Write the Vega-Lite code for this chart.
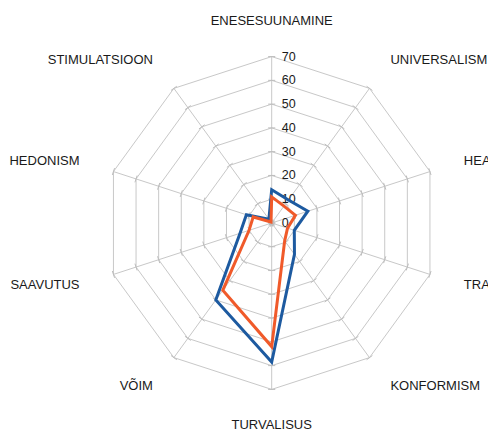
{
  "$schema": "https://vega.github.io/schema/vega-lite/v6.json",
  "width": 488,
  "height": 431,
  "autosize": "none",
  "padding": 0,
  "background": "white",
  "config": {"view": {"stroke": null}, "font": "Liberation Sans"},
  "datasets": {
    "cats": [
      {"cat": "ENESESUUNAMINE", "lv": [0, 10, 20, 30, 40, 50, 60, 70]},
      {"cat": "UNIVERSALISM", "lv": [0, 10, 20, 30, 40, 50, 60, 70]},
      {"cat": "HEATAHTLIKKUS", "lv": [0, 10, 20, 30, 40, 50, 60, 70]},
      {"cat": "TRADITSIOON", "lv": [0, 10, 20, 30, 40, 50, 60, 70]},
      {"cat": "KONFORMISM", "lv": [0, 10, 20, 30, 40, 50, 60, 70]},
      {"cat": "TURVALISUS", "lv": [0, 10, 20, 30, 40, 50, 60, 70]},
      {"cat": "VÕIM", "lv": [0, 10, 20, 30, 40, 50, 60, 70]},
      {"cat": "SAAVUTUS", "lv": [0, 10, 20, 30, 40, 50, 60, 70]},
      {"cat": "HEDONISM", "lv": [0, 10, 20, 30, 40, 50, 60, 70]},
      {"cat": "STIMULATSIOON", "lv": [0, 10, 20, 30, 40, 50, 60, 70]}
    ],
    "vals": [
      {"series": "Series 1", "cat": "ENESESUUNAMINE", "value": 14},
      {"series": "Series 1", "cat": "UNIVERSALISM", "value": 12},
      {"series": "Series 1", "cat": "HEATAHTLIKKUS", "value": 16},
      {"series": "Series 1", "cat": "TRADITSIOON", "value": 10},
      {"series": "Series 1", "cat": "KONFORMISM", "value": 16.3},
      {"series": "Series 1", "cat": "TURVALISUS", "value": 58.5},
      {"series": "Series 1", "cat": "VÕIM", "value": 40},
      {"series": "Series 1", "cat": "SAAVUTUS", "value": 14},
      {"series": "Series 1", "cat": "HEDONISM", "value": 11.2},
      {"series": "Series 1", "cat": "STIMULATSIOON", "value": 2},
      {"series": "Series 2", "cat": "ENESESUUNAMINE", "value": 11},
      {"series": "Series 2", "cat": "UNIVERSALISM", "value": 8.8},
      {"series": "Series 2", "cat": "HEATAHTLIKKUS", "value": 10.5},
      {"series": "Series 2", "cat": "TRADITSIOON", "value": 7},
      {"series": "Series 2", "cat": "KONFORMISM", "value": 9.3},
      {"series": "Series 2", "cat": "TURVALISUS", "value": 52},
      {"series": "Series 2", "cat": "VÕIM", "value": 35},
      {"series": "Series 2", "cat": "SAAVUTUS", "value": 10},
      {"series": "Series 2", "cat": "HEDONISM", "value": 8.2},
      {"series": "Series 2", "cat": "STIMULATSIOON", "value": 0.5}
    ]
  },
  "layer": [
    {
      "data": {"name": "cats"},
      "transform": [
        {"window": [{"op": "row_number", "as": "i"}]},
        {"calculate": "(datum.i - 1) * PI / 5", "as": "a"},
        {"calculate": "70 * sin(datum.a)", "as": "sx"},
        {"calculate": "70 * cos(datum.a)", "as": "sy"},
        {"calculate": "0", "as": "z"}
      ],
      "mark": {"type": "rule", "color": "#c8c8c8", "strokeWidth": 1},
      "encoding": {
        "x": {"field": "z", "type": "quantitative", "scale": {"domain": [-114.3, 91.0], "nice": false, "zero": false}, "axis": null},
        "y": {"field": "z", "type": "quantitative", "scale": {"domain": [-87.5, 93.8], "nice": false, "zero": false}, "axis": null},
        "x2": {"field": "sx"},
        "y2": {"field": "sy"}
      }
    },
    {
      "data": {"name": "cats"},
      "transform": [
        {"window": [{"op": "row_number", "as": "i"}]},
        {"calculate": "(datum.i - 1) * PI / 5", "as": "a"},
        {"flatten": ["lv"]},
        {"filter": "datum.lv > 0"},
        {"calculate": "datum.lv * sin(datum.a)", "as": "gx"},
        {"calculate": "datum.lv * cos(datum.a)", "as": "gy"}
      ],
      "mark": {"type": "line", "interpolate": "linear-closed", "color": "#c8c8c8", "strokeWidth": 1},
      "encoding": {
        "x": {"field": "gx", "type": "quantitative"},
        "y": {"field": "gy", "type": "quantitative"},
        "detail": {"field": "lv", "type": "nominal"},
        "order": {"field": "i", "type": "quantitative"}
      }
    },
    {
      "data": {"name": "cats"},
      "transform": [
        {"window": [{"op": "row_number", "as": "i"}]},
        {"calculate": "(datum.i - 1) * PI / 5", "as": "a"},
        {"flatten": ["lv"]},
        {"calculate": "datum.lv * sin(datum.a) - 1.5 * cos(datum.a)", "as": "tx"},
        {"calculate": "datum.lv * cos(datum.a) + 1.5 * sin(datum.a)", "as": "ty"},
        {"calculate": "datum.lv * sin(datum.a) + 1.5 * cos(datum.a)", "as": "tx2"},
        {"calculate": "datum.lv * cos(datum.a) - 1.5 * sin(datum.a)", "as": "ty2"}
      ],
      "mark": {"type": "rule", "color": "#bdbdbd", "strokeWidth": 1},
      "encoding": {
        "x": {"field": "tx", "type": "quantitative"},
        "y": {"field": "ty", "type": "quantitative"},
        "x2": {"field": "tx2"},
        "y2": {"field": "ty2"}
      }
    },
    {
      "data": {"name": "cats"},
      "transform": [
        {"window": [{"op": "row_number", "as": "i"}]},
        {"filter": "datum.i == 1"},
        {"flatten": ["lv"]},
        {"calculate": "0", "as": "z"}
      ],
      "mark": {"type": "text", "align": "left", "baseline": "middle", "dx": 10, "fontSize": 12.5, "color": "#1a1a1a"},
      "encoding": {
        "x": {"field": "z", "type": "quantitative"},
        "y": {"field": "lv", "type": "quantitative"},
        "text": {"field": "lv", "type": "quantitative"}
      }
    },
    {
      "data": {"name": "vals"},
      "transform": [
        {"filter": "datum.series == 'Series 1'"},
        {"window": [{"op": "row_number", "as": "i"}]},
        {"calculate": "(datum.i - 1) * PI / 5", "as": "a"},
        {"calculate": "datum.value * sin(datum.a)", "as": "px"},
        {"calculate": "datum.value * cos(datum.a)", "as": "py"}
      ],
      "mark": {"type": "line", "interpolate": "linear-closed", "color": "#1d5aa0", "strokeWidth": 3, "strokeJoin": "miter"},
      "encoding": {
        "x": {"field": "px", "type": "quantitative"},
        "y": {"field": "py", "type": "quantitative"},
        "order": {"field": "i", "type": "quantitative"}
      }
    },
    {
      "data": {"name": "vals"},
      "transform": [
        {"filter": "datum.series == 'Series 2'"},
        {"window": [{"op": "row_number", "as": "i"}]},
        {"calculate": "(datum.i - 1) * PI / 5", "as": "a"},
        {"calculate": "datum.value * sin(datum.a)", "as": "px"},
        {"calculate": "datum.value * cos(datum.a)", "as": "py"}
      ],
      "mark": {"type": "line", "interpolate": "linear-closed", "color": "#f05a2a", "strokeWidth": 3, "strokeJoin": "miter"},
      "encoding": {
        "x": {"field": "px", "type": "quantitative"},
        "y": {"field": "py", "type": "quantitative"},
        "order": {"field": "i", "type": "quantitative"}
      }
    },
    {
      "data": {"name": "cats"},
      "transform": [
        {"window": [{"op": "row_number", "as": "i"}]},
        {"filter": "datum.i == 1 || datum.i == 6"},
        {"calculate": "(datum.i - 1) * PI / 5", "as": "a"},
        {"calculate": "85 * sin(datum.a)", "as": "lx"},
        {"calculate": "85 * cos(datum.a)", "as": "ly"}
      ],
      "mark": {"type": "text", "align": "center", "baseline": "middle", "fontSize": 13, "color": "#1a1a1a"},
      "encoding": {
        "x": {"field": "lx", "type": "quantitative"},
        "y": {"field": "ly", "type": "quantitative"},
        "text": {"field": "cat", "type": "nominal"}
      }
    },
    {
      "data": {"name": "cats"},
      "transform": [
        {"window": [{"op": "row_number", "as": "i"}]},
        {"filter": "datum.i >= 2 && datum.i <= 5"},
        {"calculate": "(datum.i - 1) * PI / 5", "as": "a"},
        {"calculate": "85 * sin(datum.a)", "as": "lx"},
        {"calculate": "85 * cos(datum.a)", "as": "ly"}
      ],
      "mark": {"type": "text", "align": "left", "baseline": "middle", "fontSize": 13, "color": "#1a1a1a"},
      "encoding": {
        "x": {"field": "lx", "type": "quantitative"},
        "y": {"field": "ly", "type": "quantitative"},
        "text": {"field": "cat", "type": "nominal"}
      }
    },
    {
      "data": {"name": "cats"},
      "transform": [
        {"window": [{"op": "row_number", "as": "i"}]},
        {"filter": "datum.i >= 7"},
        {"calculate": "(datum.i - 1) * PI / 5", "as": "a"},
        {"calculate": "85 * sin(datum.a)", "as": "lx"},
        {"calculate": "85 * cos(datum.a)", "as": "ly"}
      ],
      "mark": {"type": "text", "align": "right", "baseline": "middle", "fontSize": 13, "color": "#1a1a1a"},
      "encoding": {
        "x": {"field": "lx", "type": "quantitative"},
        "y": {"field": "ly", "type": "quantitative"},
        "text": {"field": "cat", "type": "nominal"}
      }
    }
  ]
}
